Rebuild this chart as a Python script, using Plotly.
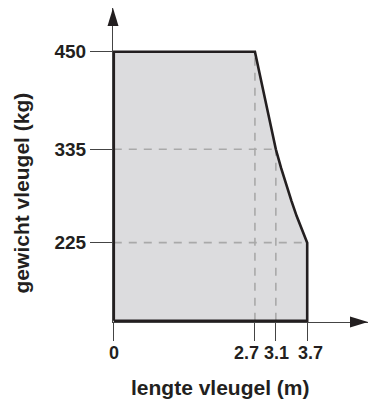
import plotly.graph_objects as go

# ---- data ----
length_ticks = [0, 2.7, 3.1, 3.7]
length_labels = ["0", "2.7", "3.1", "3.7"]
weight_ticks = [225, 335, 450]
weight_labels = ["225", "335", "450"]

base_weight = 133          # unlabeled bottom of the envelope (x-axis level)
max_weight = 450
max_length = 3.7

# curved boundary between (2.7, 450) and (3.7, 225)
curve_len = [2.7, 2.8, 2.9, 3.0, 3.1, 3.2, 3.3, 3.4, 3.5, 3.6, 3.7]
curve_wt = [450, 421, 390, 361, 335, 313, 293, 274, 256, 240, 225]

# reference dashed guide lines: (length, weight)
guide_points = [(3.1, 335), (3.7, 225), (2.7, 450)]

x_title = "lengte vleugel (m)"
y_title = "gewicht vleugel (kg)"

# ---- figure ----
poly_x = [0, 0] + curve_len + [max_length, 0]
poly_y = [base_weight, max_weight] + curve_wt + [base_weight, base_weight]

fig = go.Figure()
fig.add_trace(go.Scatter(x=poly_x, y=poly_y, mode="lines", fill="toself",
                         fillcolor="#dcdcde", line=dict(width=0),
                         hoverinfo="skip", showlegend=False))

DASH = "#a9a9a9"
for (lx, wy) in guide_points[:2]:
    fig.add_trace(go.Scatter(x=[0, lx], y=[wy, wy], mode="lines",
                             line=dict(color=DASH, width=1.6, dash="8px,7px"),
                             hoverinfo="skip", showlegend=False))
for (lx, wy) in [guide_points[0], guide_points[2]]:
    fig.add_trace(go.Scatter(x=[lx, lx], y=[base_weight, wy], mode="lines",
                             line=dict(color=DASH, width=1.6, dash="8px,7px"),
                             hoverinfo="skip", showlegend=False))

fig.add_trace(go.Scatter(x=poly_x, y=poly_y, mode="lines",
                         line=dict(color="#231f20", width=2.6),
                         hoverinfo="skip", showlegend=False))

x_max = 4.863
y_min = base_weight - 1.5
y_max = y_min + 370
AX = "#444444"
INK = "#231f20"
xtickfont = dict(family="Liberation Sans", size=18, color=INK, weight="bold")
ytickfont = dict(family="Liberation Sans", size=19, color=INK, weight="bold")

fig.update_xaxes(range=[-0.015, x_max], tickvals=length_ticks, showticklabels=False,
                 showline=True, linecolor=AX, linewidth=1.2, showgrid=False,
                 zeroline=False, ticks="outside", ticklen=18, tickwidth=1.2,
                 tickcolor=AX, fixedrange=True)
fig.update_yaxes(range=[y_min, y_max], tickvals=weight_ticks,
                 ticktext=weight_labels, showline=True, linecolor=AX, linewidth=1.2,
                 showgrid=False, zeroline=False, ticks="outside", ticklen=22,
                 tickwidth=1.2, tickcolor=AX, tickfont=ytickfont, fixedrange=True)

# x tick labels as text at the tick values, nudged apart so the close ones stay legible
label_nudge = [0, -8, 1, 3]
for v, txt, dx in zip(length_ticks, length_labels, label_nudge):
    fig.add_annotation(text=txt, x=v, xref="x", y=0, yref="paper",
                       xanchor="center", yanchor="middle", xshift=dx, yshift=-31,
                       showarrow=False, font=xtickfont)

# axis arrowheads (paper-referenced so they are not clipped)
fig.add_shape(type="path", xref="paper", yref="paper", xsizemode="pixel", ysizemode="pixel",
              xanchor=0, yanchor=1, path="M0,0 L-5.5,-18 L5.5,-18 Z",
              fillcolor=INK, line=dict(width=0))
fig.add_shape(type="path", xref="paper", yref="paper", xsizemode="pixel", ysizemode="pixel",
              xanchor=1, yanchor=0, path="M0,0 L-18,5.5 L-18,-5.5 Z",
              fillcolor=INK, line=dict(width=0))

titlefont = dict(family="Liberation Sans", size=21, color=INK, weight="bold")
fig.add_annotation(text=x_title, xref="paper", yref="paper", x=0.42, y=-0.21,
                   xanchor="center", yanchor="middle", showarrow=False, font=titlefont)
fig.add_annotation(text=y_title, xref="paper", yref="paper", x=-0.36, y=0.41,
                   xanchor="center", yanchor="middle", textangle=-90,
                   showarrow=False, font=titlefont)

fig.update_layout(width=374, height=398, margin=dict(l=105, r=14, t=0, b=84),
                  paper_bgcolor="white", plot_bgcolor="white", showlegend=False)

fig.write_html("out.html")
